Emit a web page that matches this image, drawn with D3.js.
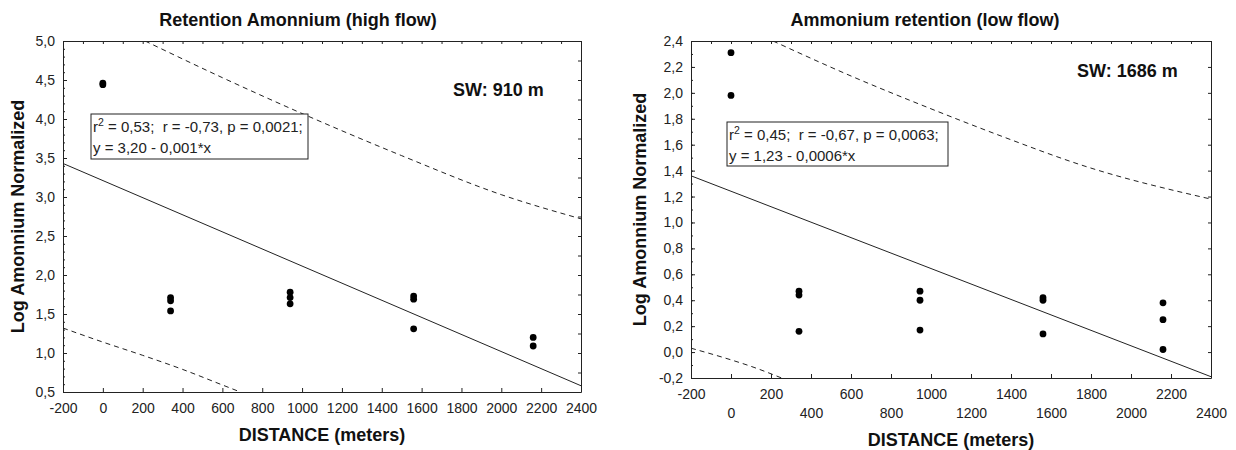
<!DOCTYPE html>
<html>
<head>
<meta charset="utf-8">
<script src="https://cdnjs.cloudflare.com/ajax/libs/d3/7.8.5/d3.min.js"></script>
<style>
  body { margin: 0; background: #fff; }
  svg { display: block; font-family: "Liberation Sans", Arial, sans-serif; }
  .bold { font-weight: bold; fill: #111; font-size: 18px; }
</style>
</head>
<body>
<svg width="1236" height="450"></svg>
<script>
// ammonium retention, two panels (high flow / low flow)

// -- high flow panel data
var highDist = [0, 0, 340, 340, 340, 940, 940, 940, 1560, 1560, 1560, 2160, 2160];
var highLog = [4.46, 4.44, 1.71, 1.67, 1.54, 1.78, 1.71, 1.63, 1.73, 1.69, 1.31, 1.20, 1.09];
var highFitX = [-200, 2400];
var highFitY = [3.43, 0.58];
var highUpperX = [212, 600, 1000, 1500, 2000, 2400];
var highUpperY = [5.0, 4.53, 4.07, 3.53, 3.03, 2.72];
var highLowerX = [-200, 0, 200, 400, 600, 690];
var highLowerY = [1.32, 1.14, 0.97, 0.79, 0.59, 0.5];
var highYTicks = [0.5, 1.0, 1.5, 2.0, 2.5, 3.0, 3.5, 4.0, 4.5, 5.0];
var highXTicks = [-200, 0, 200, 400, 600, 800, 1000, 1200, 1400, 1600, 1800, 2000, 2200, 2400];

// -- low flow panel data
var lowDist = [0, 0, 340, 340, 340, 945, 945, 945, 1560, 1560, 1560, 2160, 2160, 2160];
var lowLog = [2.31, 1.98, 0.47, 0.44, 0.16, 0.47, 0.40, 0.17, 0.42, 0.40, 0.14, 0.38, 0.25, 0.02];
var lowFitX = [-200, 2400];
var lowFitY = [1.36, -0.19];
var lowUpperX = [210, 600, 995, 1345, 1778, 2400];
var lowUpperY = [2.4, 2.13, 1.88, 1.67, 1.43, 1.18];
var lowLowerX = [-200, 0, 100, 253];
var lowLowerY = [0.03, -0.06, -0.11, -0.2];
var lowYTicks = [-0.2, 0.0, 0.2, 0.4, 0.6, 0.8, 1.0, 1.2, 1.4, 1.6, 1.8, 2.0, 2.2, 2.4];
var lowXTicks = [-200, 0, 200, 400, 600, 800, 1000, 1200, 1400, 1600, 1800, 2000, 2200, 2400];

var svg = d3.select('svg');

function comma(d) {
    return d3.format('.1f')(d).replace('.', ',').replace('\u2212', '-');
}
function plain(d) {
    return d3.format('d')(d).replace('\u2212', '-');
}

function zip(xs, ys) {
    return xs.map(function (x, i) { return [x, ys[i]]; });
}

function drawPanel(p) {
    var g = svg.append('g');
    var w = p.right - p.left, h = p.bottom - p.top;

    var x = d3.scaleLinear().domain([-200, 2400]).range([p.left, p.right]);
    var y = d3.scaleLinear().domain(p.yDomain).range([p.bottom, p.top]);

    g.append('clipPath').attr('id', p.id + 'clip')
        .append('rect').attr('x', p.left).attr('y', p.top).attr('width', w).attr('height', h);

    // minor ticks
    g.append('g').attr('transform', 'translate(' + p.left + ',0)')
        .call(d3.axisLeft(y).tickValues(p.yMinor).tickSize(-2).tickFormat(''))
        .call(function (a) { a.select('.domain').remove(); });
    g.append('g').attr('transform', 'translate(0,' + p.top + ')')
        .call(d3.axisTop(x).tickValues(d3.range(-200, 2401, 100)).tickSize(-3).tickFormat(''))
        .call(function (a) { a.select('.domain').remove(); });
    g.append('g').attr('transform', 'translate(' + p.right + ',0)')
        .call(d3.axisRight(y).tickValues(p.rightTicks).tickSize(-3).tickFormat(''))
        .call(function (a) { a.select('.domain').remove(); });

    // main axes
    var ya = g.append('g').attr('transform', 'translate(' + p.left + ',0)')
        .call(d3.axisLeft(y).tickValues(p.yTicks).tickSize(-4).tickSizeOuter(0).tickPadding(8).tickFormat(comma));
    var xa = g.append('g').attr('transform', 'translate(0,' + p.bottom + ')')
        .call(d3.axisBottom(x).tickValues(p.xTicks).tickSize(-4).tickSizeOuter(0).tickPadding(11).tickFormat(plain));
    [ya, xa].forEach(function (a) {
        a.attr('font-size', 14).attr('font-family', null);
        a.selectAll('.tick text').attr('fill', '#222');
    });
    if (p.twoRows) {
        xa.selectAll('.tick text').attr('y', function (d, i) { return i % 2 ? 30 : 11; });
    }
    g.append('g').attr('transform', 'translate(0,' + p.top + ')')
        .call(d3.axisTop(x).tickValues([]).tickSizeOuter(0));
    g.append('g').attr('transform', 'translate(' + p.right + ',0)')
        .call(d3.axisRight(y).tickValues([]).tickSizeOuter(0));
    g.selectAll('.domain, .tick line').attr('stroke', '#222');

    var line = d3.line().x(function (d) { return x(d[0]); }).y(function (d) { return y(d[1]); });
    var curve = d3.line().curve(d3.curveMonotoneX).x(function (d) { return x(d[0]); }).y(function (d) { return y(d[1]); });

    var plot = g.append('g').attr('clip-path', 'url(#' + p.id + 'clip)');
    plot.append('path').datum(zip(p.fitX, p.fitY)).attr('d', line)
        .attr('fill', 'none').attr('stroke', '#222').attr('stroke-width', 1);
    [zip(p.upX, p.upY), zip(p.loX, p.loY)].forEach(function (band) {
        plot.append('path').datum(band).attr('d', curve)
            .attr('fill', 'none').attr('stroke', '#222').attr('stroke-width', 1)
            .attr('stroke-dasharray', '5,4');
    });

    g.selectAll('circle.pt').data(zip(p.dist, p.log)).enter()
        .append('circle').attr('class', 'pt')
        .attr('cx', function (d) { return x(d[0]); })
        .attr('cy', function (d) { return y(d[1]); })
        .attr('r', 3.4).attr('fill', '#000');

    // stats box
    var box = g.append('g').attr('transform', 'translate(' + p.box[0] + ',' + p.box[1] + ')');
    box.append('rect').attr('width', p.box[2]).attr('height', p.box[3])
        .attr('fill', '#fff').attr('stroke', '#222').attr('stroke-width', 1);
    var t1 = box.append('text').attr('x', 2).attr('y', 18).attr('font-size', 15)
        .attr('fill', '#222').style('white-space', 'pre');
    t1.append('tspan').text('r');
    t1.append('tspan').attr('dy', -6).attr('font-size', 10.5).text('2');
    t1.append('tspan').attr('dy', 6).text(p.stats);
    box.append('text').attr('x', 2).attr('y', 39).attr('font-size', 15).attr('fill', '#222').text(p.eq);

    g.append('text').attr('class', 'bold').attr('x', p.sw[0]).attr('y', p.sw[1]).text(p.swText);

    g.append('text').attr('class', 'bold').attr('text-anchor', 'middle')
        .attr('x', p.titleX).attr('y', 26).text(p.title);
    g.append('text').attr('class', 'bold').attr('text-anchor', 'middle')
        .attr('x', (p.left + p.right) / 2).attr('y', p.xLabelY).text('DISTANCE (meters)');
    g.append('text').attr('class', 'bold').attr('text-anchor', 'middle')
        .attr('transform', 'translate(' + p.yLabelX + ',' + ((p.top + p.bottom) / 2) + ') rotate(-90)')
        .text('Log Amonnium Normalized');
}

drawPanel({
    id: 'high', left: 63, right: 581, top: 41, bottom: 392,
    yDomain: [0.5, 5.0], yTicks: highYTicks, xTicks: highXTicks,
    yMinor: d3.range(5, 51).map(function (v) { return v / 10; }),
    rightTicks: d3.range(2, 21).map(function (v) { return v / 4; }),
    dist: highDist, log: highLog, fitX: highFitX, fitY: highFitY,
    upX: highUpperX, upY: highUpperY, loX: highLowerX, loY: highLowerY,
    box: [91, 114, 217, 45],
    stats: ' = 0,53;  r = -0,73, p = 0,0021;', eq: 'y = 3,20 - 0,001*x',
    sw: [453, 96], swText: 'SW: 910 m',
    title: 'Retention Amonnium (high flow)', titleX: 298,
    xLabelY: 441, yLabelX: 24
});

drawPanel({
    id: 'low', left: 691, right: 1211, top: 41, bottom: 378,
    yDomain: [-0.2, 2.4], yTicks: lowYTicks, xTicks: lowXTicks, twoRows: true,
    yMinor: d3.range(-2, 25).map(function (v) { return v / 10; }),
    rightTicks: d3.range(-1, 13).map(function (v) { return v / 5; }),
    dist: lowDist, log: lowLog, fitX: lowFitX, fitY: lowFitY,
    upX: lowUpperX, upY: lowUpperY, loX: lowLowerX, loY: lowLowerY,
    box: [727, 122, 221, 44],
    stats: ' = 0,45;  r = -0,67, p = 0,0063;', eq: 'y = 1,23 - 0,0006*x',
    sw: [1077, 77], swText: 'SW: 1686 m',
    title: 'Ammonium retention (low flow)', titleX: 925,
    xLabelY: 446, yLabelX: 646
});
</script>
</body>
</html>
